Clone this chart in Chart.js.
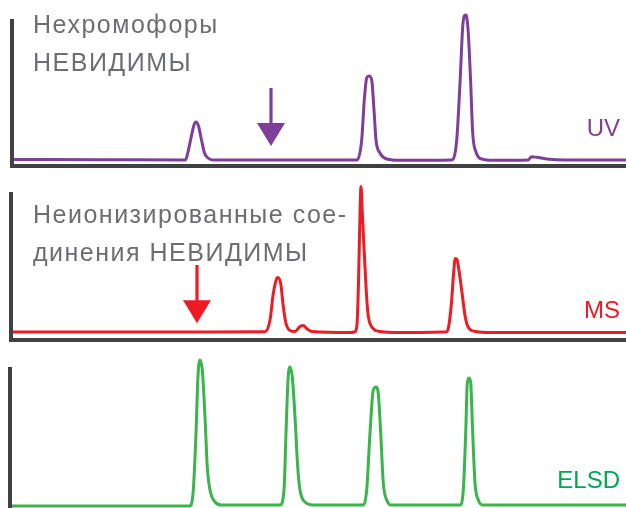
<!DOCTYPE html>
<html>
<head>
<meta charset="utf-8">
<script src="https://cdn.jsdelivr.net/npm/chart.js@4.4.1/dist/chart.umd.min.js"></script>
<style>
  html, body { margin: 0; padding: 0; background: #fff; overflow: hidden; }
  body { width: 626px; height: 508px; position: relative; font-family: "Liberation Sans", Arial, sans-serif; }
  .panel { position: absolute; left: 0; width: 626px; }
  .panel canvas { display: block; }
  .note { position: absolute; left: 33px; color: #6d6e71; font-size: 25px; line-height: 38px; letter-spacing: 1.5px; white-space: nowrap; }
  .tag { position: absolute; right: 6px; font-size: 24px; line-height: 24px; white-space: nowrap; }
</style>
</head>
<body>
<div class="panel" style="top:0;height:168px"><canvas id="uv" width="626" height="168"></canvas></div>
<div class="panel" style="top:170px;height:172px"><canvas id="ms" width="626" height="172"></canvas></div>
<div class="panel" style="top:345px;height:170px"><canvas id="elsd" width="626" height="170"></canvas></div>

<div class="note" style="top:5px">Нехромофоры<br>НЕВИДИМЫ</div>
<div class="note" style="top:195px">Неионизированные сое-<br>динения НЕВИДИМЫ</div>
<div class="tag" style="top:116px;color:#7f3f98">UV</div>
<div class="tag" style="top:298px;color:#ed1c24">MS</div>
<div class="tag" style="top:468px;color:#00a651">ELSD</div>

<script>
// --- DATA (time vs detector signal) ---
const uvTime   = [14, 100, 185.5, 188, 191, 194, 196, 198.5, 201.5, 204.5, 208, 213,
                  300, 357, 361.7, 364.3, 366.7, 369, 371.7, 374, 376, 380, 386.7, 400,
                  451.7, 456.7, 460, 462.7, 464.3, 465.7, 466.7, 468.3, 470.7, 472.7, 476, 481.7, 493,
                  528, 531.7, 536.7, 546.7, 566.7, 626];
const uvSignal = [0.5, 0.3, 0, 8, 22, 35, 38, 34, 20, 7, 2, 0,
                  0, 0, 20, 60, 82, 84, 80, 50, 20, 7, 1, -0.3,
                  0, 20, 77, 133, 144, 145, 143, 127, 77, 27, 8, 1, -0.3,
                  0, 3.3, 2.7, 1, 0, 0];

const msTime   = [13, 200, 265, 270, 273.3, 276.7, 277.7, 280.7, 283.3, 286, 290, 295,
                  300, 303.3, 306.7, 311.7, 350,
                  355, 357, 358.5, 359.8, 361, 362.3, 364.5, 367, 368.5, 371.5, 380, 400,
                  446.7, 448.5, 451.5, 453.5, 455.3, 457, 459, 462, 465, 467, 470, 476, 490, 626];
const msSignal = [0.5, 0.5, 0.8, 12.5, 39, 54, 55, 49, 26, 9, 2, 1,
                  6, 7, 4, 1, 0,
                  0.8, 8, 50, 110, 146, 120, 75, 30, 15, 6, 1, 0,
                  0.8, 5, 30, 58, 74, 73, 62, 40, 17, 8, 3, 1, 0, 0];

const elsdTime   = [12, 100, 190, 193.3, 196, 198, 200, 202.3, 205, 207.3, 210, 215, 221.7,
                    276.7, 280, 284, 286, 288, 290, 292.3, 295, 297.7, 300, 305, 313.3,
                    360, 363.3, 366.7, 370, 373.3, 376, 378.3, 380.7, 383.3, 386.7, 391.7,
                    456.7, 460, 463.3, 465.7, 467.3, 469, 470.7, 472.7, 475, 478.3, 483.3, 626];
const elsdSignal = [0, 0, 0, 16, 73, 130, 146, 136, 89, 39, 16, 4, 1,
                    1, 1, 16, 73, 126, 139, 129, 89, 39, 16, 4, 1,
                    1, 1, 16, 73, 116, 119, 112, 73, 23, 6, 1,
                    1, 1, 16, 73, 123, 128, 123, 73, 23, 6, 1, 1];

// arrows: [time, tail signal, tip signal]
const uvArrow = [271, 72, 14];
const msArrow = [197, 67.5, 9.2];

// --- CHARTS ---
const axisColor = '#414042';

const arrowPlugin = {
  id: 'arrow',
  afterDatasetsDraw(chart, args, opts) {
    if (!opts.at) return;
    const { ctx, scales: { x, y } } = chart;
    const px = x.getPixelForValue(opts.at[0]);
    const tail = y.getPixelForValue(opts.at[1]);
    const tip = y.getPixelForValue(opts.at[2]);
    const base = tip - 23;
    ctx.save();
    ctx.strokeStyle = opts.color;
    ctx.fillStyle = opts.color;
    ctx.lineWidth = 3.2;
    ctx.beginPath();
    ctx.moveTo(px, tail);
    ctx.lineTo(px, base + 2);
    ctx.stroke();
    ctx.beginPath();
    ctx.moveTo(px - 14, base);
    ctx.lineTo(px + 14, base);
    ctx.lineTo(px, tip);
    ctx.closePath();
    ctx.fill();
    ctx.restore();
  }
};

function makePanel(id, time, signal, color, box, arrow) {
  const h = document.getElementById(id).height;
  // box: baseline pixel inside the canvas, padding of the plot area
  const top = box.padTop, bottom = h - box.padBottom;
  return new Chart(document.getElementById(id), {
    type: 'line',
    data: {
      datasets: [{
        data: time.map((t, i) => ({ x: t, y: signal[i] })),
        borderColor: color,
        borderWidth: 3,
        pointRadius: 0,
        cubicInterpolationMode: 'monotone',
        borderJoinStyle: 'round',
        clip: false,
        fill: false
      }]
    },
    plugins: [arrowPlugin],
    options: {
      responsive: false,
      animation: false,
      events: [],
      layout: { autoPadding: false, padding: { left: box.left, top: top, right: 0, bottom: box.padBottom } },
      plugins: {
        legend: { display: false },
        tooltip: { enabled: false },
        arrow: arrow ? { at: arrow, color: color } : {}
      },
      scales: {
        x: {
          type: 'linear', min: box.left, max: 626,
          ticks: { display: false }, grid: { display: false, drawTicks: false },
          border: { display: true, color: axisColor, width: 4 }
        },
        y: {
          min: box.base - bottom, max: box.base - top,
          ticks: { display: false }, grid: { display: false, drawTicks: false },
          border: { display: true, color: axisColor, width: 4 }
        }
      }
    }
  });
}

makePanel('uv', uvTime, uvSignal, '#7f3f98', { left: 12, padTop: 21, padBottom: 2, base: 160 }, uvArrow);
makePanel('ms', msTime, msSignal, '#ed1c24', { left: 11, padTop: 24, padBottom: 2, base: 162.5 }, msArrow);
makePanel('elsd', elsdTime, elsdSignal, '#39b54a', { left: 10, padTop: 24, padBottom: 3, base: 161 }, null);
</script>
</body>
</html>
